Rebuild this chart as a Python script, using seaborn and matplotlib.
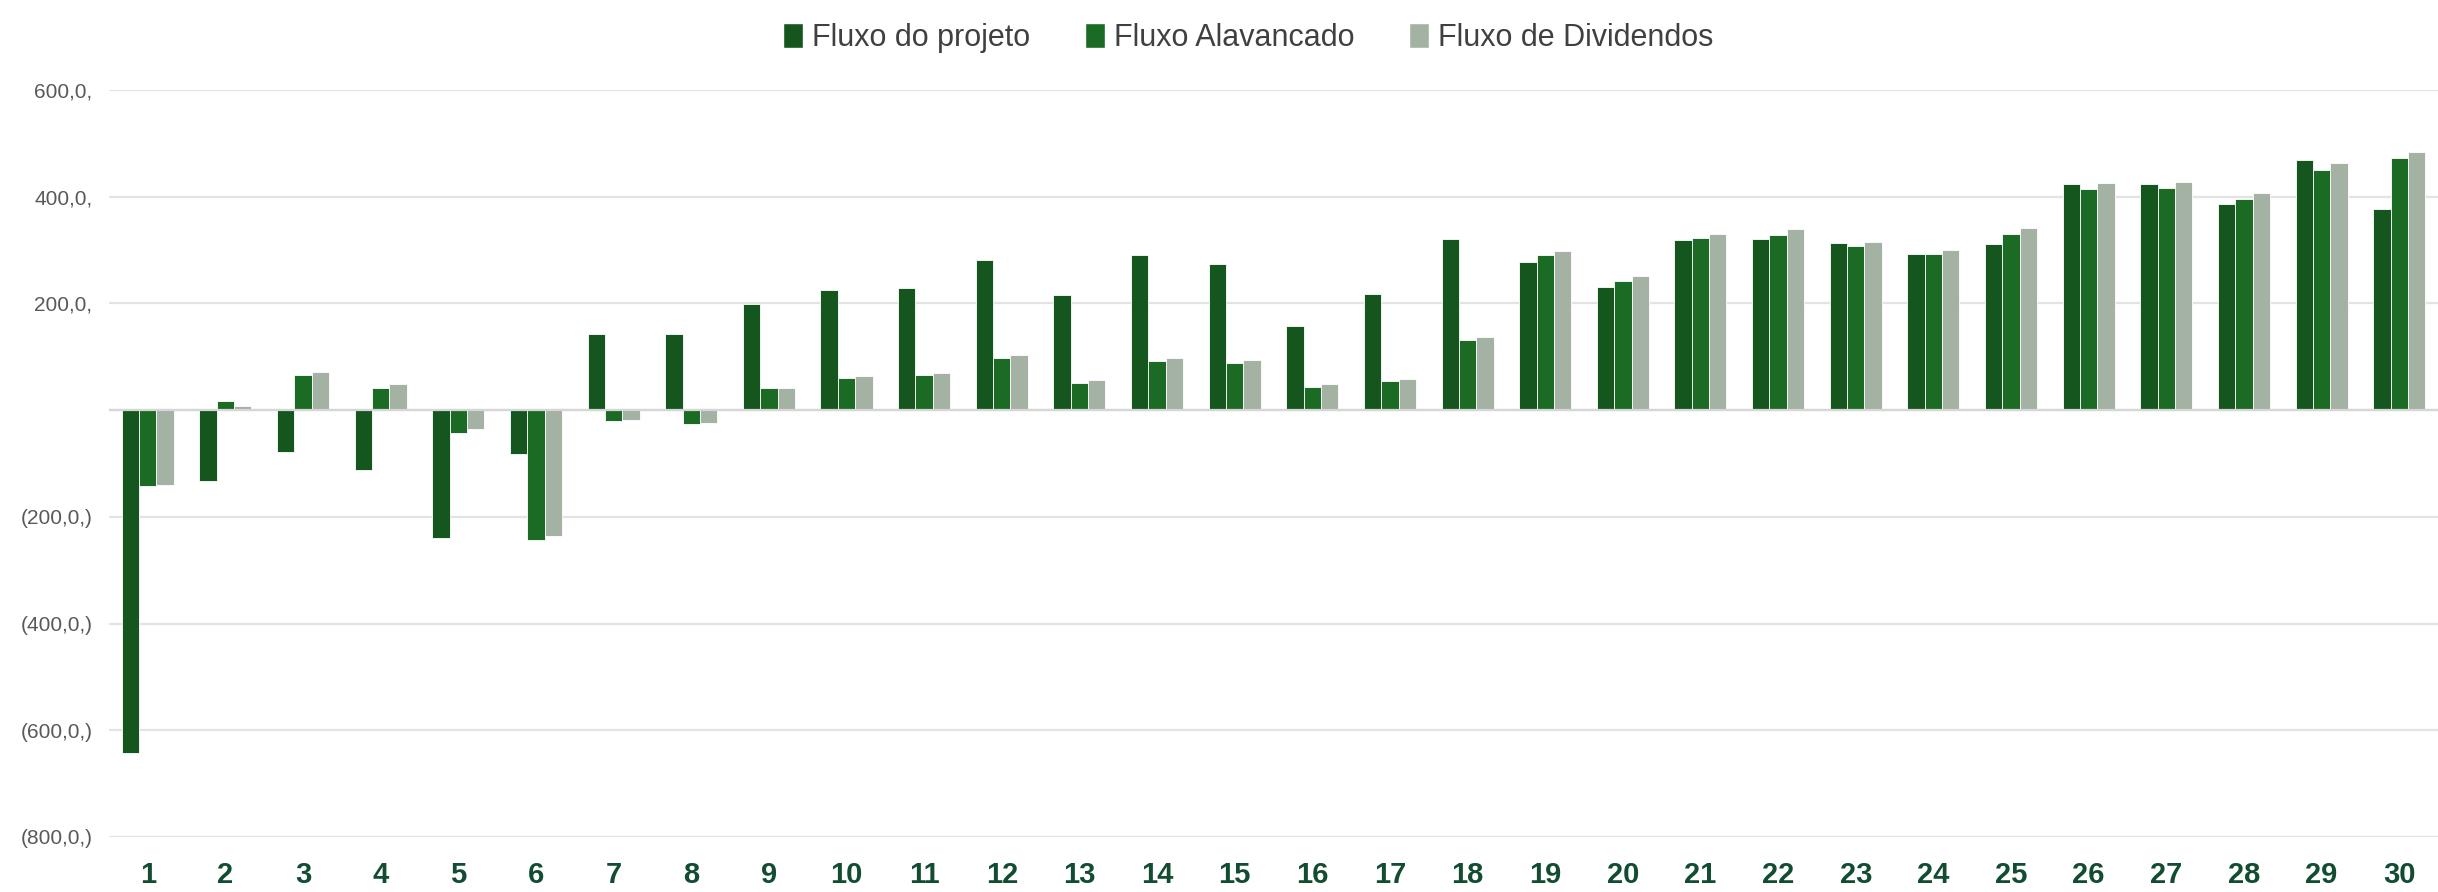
import pandas as pd
import numpy as np
import matplotlib
matplotlib.use('Agg')
import matplotlib.pyplot as plt
import seaborn as sns
from matplotlib.patches import Patch

# ---- dados ----
anos = [str(i) for i in range(1, 31)]

fluxo_projeto = [-643, -132, -79, -113, -239, -82, 143, 142, 199, 225,
                 228, 282, 216, 291, 274, 157, 217, 321, 278, 231,
                 319, 320, 314, 293, 311, 424, 423, 386, 468, 377]
fluxo_alavancado = [-143, 17, 66, 41, -43, -244, -21, -26, 41, 61,
                    65, 97, 50, 92, 89, 44, 55, 132, 290, 242,
                    322, 329, 307, 292, 331, 414, 416, 396, 451, 473]
fluxo_dividendos = [-140, 7, 72, 49, -35, -236, -18, -24, 42, 64,
                    69, 103, 57, 97, 94, 49, 59, 137, 299, 251,
                    331, 339, 316, 301, 341, 426, 427, 407, 463, 484]

series = ['Fluxo do projeto', 'Fluxo Alavancado', 'Fluxo de Dividendos']
cores = ['#15561E', '#1B6B24', '#A3B2A2']

yticks = [-800, -600, -400, -200, 0, 200, 400, 600]
ytick_labels = ['(800,0,)', '(600,0,)', '(400,0,)', '(200,0,)', '', '200,0,', '400,0,', '600,0,']

df = pd.DataFrame({
    'ano': anos * 3,
    'serie': np.repeat(series, len(anos)),
    'valor': fluxo_projeto + fluxo_alavancado + fluxo_dividendos,
})

sns.set_theme(style='white')
plt.rcParams['font.family'] = ['Liberation Sans', 'DejaVu Sans']

fig = plt.figure(figsize=(24.38, 8.92), dpi=100)
ax = fig.add_axes([0.0447, 0.0617, 0.9553, 0.8374])

sns.barplot(data=df, x='ano', y='valor', hue='serie', hue_order=series,
            palette=cores, order=anos, width=0.67, ax=ax,
            edgecolor='white', linewidth=0.6, saturation=1, legend=False)

ax.set_xlim(-0.5, 29.5)
ax.set_ylim(-800, 600)
ax.set_yticks(yticks)
ax.set_yticklabels(ytick_labels)
ax.set_xlabel('')
ax.set_ylabel('')

ax.yaxis.grid(True, color='#E3E3E3', linewidth=1.6)
ax.axhline(0, color='#D6D6D6', linewidth=1.6, zorder=1)
ax.set_axisbelow(True)
for s in ax.spines.values():
    s.set_visible(False)

ax.tick_params(axis='y', length=0, pad=12, labelsize=15, labelcolor='#595959')
ax.tick_params(axis='x', length=0, pad=17, labelsize=21, labelcolor='#124D32')
for t in ax.get_xticklabels():
    t.set_fontweight('bold')

handles = [Patch(facecolor=c, label=s) for c, s in zip(cores, series)]
fig.legend(handles=handles, loc='upper center', bbox_to_anchor=(0.512, 1.005),
           ncol=3, frameon=False, fontsize=22, labelcolor='#404040',
           handlelength=0.65, handleheight=0.85, handletextpad=0.3,
           columnspacing=1.8)

fig.savefig('out.png', dpi=100)
